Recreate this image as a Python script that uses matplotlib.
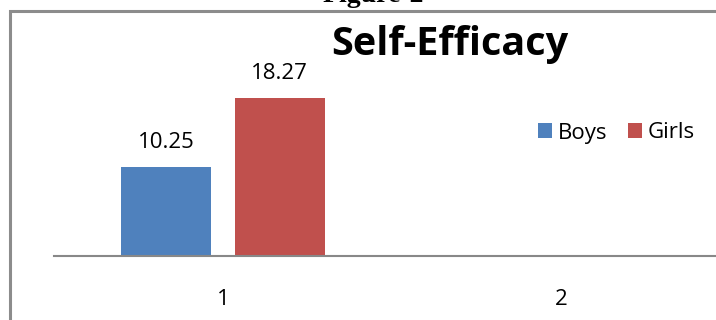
import numpy as np
import matplotlib.pyplot as plt
from matplotlib.patches import Rectangle

# data
categories = [1, 2]
tick_labels = ["1", "2"]
boys = [10.25, np.nan]
girls = [18.27, np.nan]
series_names = ["Boys", "Girls"]
colors = ["#4F81BD", "#C0504D"]

plt.rcParams['font.family'] = ['Open Sans', 'DejaVu Sans']

W, H = 716, 320
fig = plt.figure(figsize=(W / 100, H / 100), dpi=100)

# plot area runs off the right edge, like the cropped Excel chart
ax = fig.add_axes([54 / W, (H - 256) / H, 676 / W, 173.4 / H])
ax.set_xlim(0.5, 2.5)
ax.set_ylim(0, 20)

x = np.array(categories, dtype=float)
bw = 0.266
off = 0.168
for vals, dx, c, name in zip([boys, girls], [-off, off], colors, series_names):
    ax.bar(x + dx, vals, width=bw, color=c, label=name)
    for xi, v in zip(x + dx, vals):
        if not np.isnan(v):
            ax.annotate(f"{v:.2f}", (xi, v), xytext=(0, 13.7), textcoords='offset points',
                        ha='center', va='baseline', fontsize=16, color='#000000')

for s in ['top', 'right', 'left']:
    ax.spines[s].set_visible(False)
ax.spines['bottom'].set_color('#888888')
ax.spines['bottom'].set_linewidth(1.5)
ax.set_yticks([])
ax.set_xticks(x)
ax.set_xticklabels(tick_labels, fontsize=16)
ax.tick_params(axis='x', length=0, pad=24)

ax.legend(loc='center left', bbox_to_anchor=(538 / W, (H - 133) / H),
          bbox_transform=fig.transFigure, ncol=2, frameon=False, fontsize=16,
          borderpad=0, borderaxespad=0, handlelength=0.63, handleheight=0.63,
          handletextpad=0.27, columnspacing=0.9)

fig.text(450 / W, (H - 55) / H, "Self-Efficacy", ha='center', va='baseline',
         fontsize=28.5, fontweight='bold')

# chart frame
fig.add_artist(Rectangle((9.5 / W, -0.1), 1.2, (H - 11) / H + 0.1,
                         transform=fig.transFigure, fill=False,
                         edgecolor='#8c8c8c', linewidth=2.2, clip_on=False))

fig.text(373 / W, (H - 1.5) / H, "Figure-2", ha='center', va='baseline',
         fontsize=20, fontweight='bold', family=['Liberation Serif', 'DejaVu Serif'])

fig.savefig("out.png", dpi=100)
